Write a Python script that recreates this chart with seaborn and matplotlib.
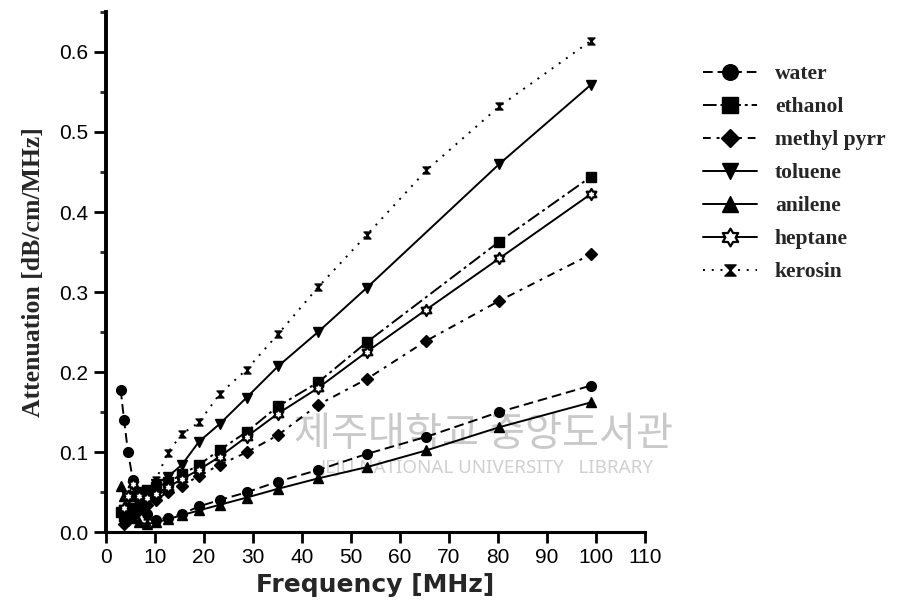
"""Attenuation vs frequency for several liquids (scanned figure recreation)."""
import numpy as np
import pandas as pd
import matplotlib
matplotlib.use("Agg")
import matplotlib.pyplot as plt
from matplotlib.path import Path
import seaborn as sns

# frequency columns [MHz]
freq = [3.0, 3.7, 4.5, 5.5, 6.8, 8.3, 10.2, 12.6, 15.5, 19.0,
        23.2, 28.7, 35.1, 43.3, 53.2, 65.4, 80.3, 99.0]

# attenuation [dB/cm/MHz], None where the series has no point
water = [0.178, 0.14, 0.10, 0.065, 0.04, 0.022, 0.015, 0.018, 0.0225, 0.032,
         0.040, 0.0496, 0.063, 0.0775, 0.0975, 0.119, 0.150, 0.183]
ethanol = [0.025, 0.02, 0.03, 0.045, 0.05, 0.052, 0.056, 0.062, 0.072, 0.084,
           0.1025, 0.125, 0.157, 0.187, 0.237, None, 0.363, 0.444]
methyl = [None, 0.01, 0.015, 0.02, 0.028, 0.034, 0.04, 0.05, 0.058, 0.07,
          0.084, 0.0996, 0.121, 0.159, 0.191, 0.239, 0.289, 0.347]
toluene = [None, None, 0.02, 0.03, 0.04, 0.05, 0.06, 0.069, 0.084, 0.113,
           0.135, 0.168, 0.207, 0.250, 0.305, None, 0.460, 0.559]
anilene = [0.058, 0.045, 0.03, 0.018, 0.012, 0.01, 0.012, 0.016, 0.021, 0.027,
           0.034, 0.043, 0.054, 0.067, 0.081, 0.102, 0.131, 0.162]
heptane = [None, 0.03, 0.045, 0.06, 0.045, 0.042, 0.048, 0.056, 0.066, 0.078,
           0.094, 0.119, 0.148, 0.180, 0.225, 0.278, 0.342, 0.4225]
kerosin = [None, None, None, None, None, 0.02, 0.065, 0.099, 0.1225, 0.137,
           0.1725, 0.203, 0.247, 0.306, 0.371, 0.452, 0.532, 0.614]

labels = ["water", "ethanol", "methyl pyrr", "toluene", "anilene", "heptane", "kerosin"]
xticks = [0, 10, 20, 30, 40, 50, 60, 70, 80, 90, 100, 110]
yticks = [0.0, 0.1, 0.2, 0.3, 0.4, 0.5, 0.6]

# custom marker shapes
hourglass = Path([(-1, 1), (1, 1), (-1, -1), (1, -1), (-1, 1)],
                 [Path.MOVETO, Path.LINETO, Path.LINETO, Path.LINETO, Path.CLOSEPOLY])
ang = np.deg2rad(np.arange(12) * 30 + 90)
rad = np.where(np.arange(12) % 2 == 0, 1.0, 0.58)
star_v = list(zip(rad * np.cos(ang), rad * np.sin(ang))) + [(0, 1)]
hexagram = Path(star_v, [Path.MOVETO] + [Path.LINETO] * 11 + [Path.CLOSEPOLY])

styles = {
    "water": dict(marker="o", dashes=(5, 2.5), mfc="black"),
    "ethanol": dict(marker="s", dashes=(7, 2, 1.5, 2), mfc="black"),
    "methyl pyrr": dict(marker="D", dashes=(4, 3, 1.5, 3), mfc="black", ms=6),
    "toluene": dict(marker="v", dashes=(), mfc="black"),
    "anilene": dict(marker="^", dashes=(), mfc="black"),
    "heptane": dict(marker=hexagram, dashes=(), mfc="white", mew=1.6, ms=8),
    "kerosin": dict(marker=hourglass, dashes=(1, 3.5), mfc="black", ms=5),
}

sns.set_theme(style="ticks")
plt.rcParams["font.family"] = ["Liberation Sans Narrow", "Liberation Sans", "DejaVu Sans"]

fig = plt.figure(figsize=(9.01, 6.12), dpi=100)
ax = fig.add_axes([0.1176, 0.1307, 0.598, 0.8497])

series = [water, ethanol, methyl, toluene, anilene, heptane, kerosin]
for name, vals in zip(labels, series):
    df = pd.DataFrame({"freq": freq, "att": pd.array(vals, dtype="Float64")}).dropna()
    df["att"] = df["att"].astype(float)
    st = styles[name]
    sns.lineplot(data=df, x="freq", y="att", ax=ax, label=name,
                 color="black", marker=st["marker"], markersize=st.get("ms", 7),
                 markerfacecolor=st["mfc"], markeredgecolor="black",
                 markeredgewidth=st.get("mew", 1), linewidth=1.4,
                 estimator=None, sort=True)
    ln = ax.lines[-1]
    if st["dashes"]:
        ln.set_dashes(st["dashes"])
    else:
        ln.set_linestyle("-")

# faint library watermark
ax.text(0.70, 0.188, "제주대학교 중앙도서관", transform=ax.transAxes, ha="center",
        va="center", fontsize=29, color="#c9c9c9",
        family=["Noto Sans CJK KR", "DejaVu Sans"], zorder=0)
ax.text(0.707, 0.123, "JEJU NATIONAL UNIVERSITY   LIBRARY", transform=ax.transAxes,
        ha="center", va="center", fontsize=13.5, color="#d0d0d0",
        family=["Noto Sans", "DejaVu Sans"], zorder=0)

ax.set_xlim(0, 110)
ax.set_ylim(0, 0.65)
ax.set_xticks(xticks)
ax.set_yticks(yticks)
ax.set_xticklabels([str(t) for t in xticks])
ax.set_yticklabels([f"{t:.1f}" for t in yticks])
ax.set_yticks(np.arange(0.05, 0.66, 0.1), minor=True)
ax.tick_params(axis="both", which="major", labelsize=15, colors="black", width=2)
ax.tick_params(axis="y", which="major", length=9)
ax.tick_params(axis="x", which="major", length=8)
ax.tick_params(axis="y", which="minor", length=4, width=2)

for side in ["top", "right"]:
    ax.spines[side].set_visible(False)
ax.spines["left"].set_linewidth(2.8)
ax.spines["bottom"].set_linewidth(2.2)
ax.spines["left"].set_color("black")
ax.spines["bottom"].set_color("black")

ax.set_xlabel("Frequency [MHz]", fontsize=18, fontweight="bold",
              family=["DejaVu Sans"], labelpad=4)
ax.set_ylabel("Attenuation [dB/cm/MHz]", fontsize=18.5, fontweight="bold",
              family=["Liberation Serif", "DejaVu Serif"], labelpad=10)

ax.legend_.remove()
handles, labs = ax.get_legend_handles_labels()
fig.legend(handles, labs, loc="upper left", bbox_to_anchor=(0.780, 0.895),
           frameon=False, borderpad=0, borderaxespad=0, handlelength=2.5,
           handletextpad=0.85, labelspacing=0.6, markerscale=1.6,
           prop={"family": ["Liberation Serif", "DejaVu Serif"], "weight": "bold", "size": 15.5})

fig.savefig("out.png", dpi=100, facecolor="white")
